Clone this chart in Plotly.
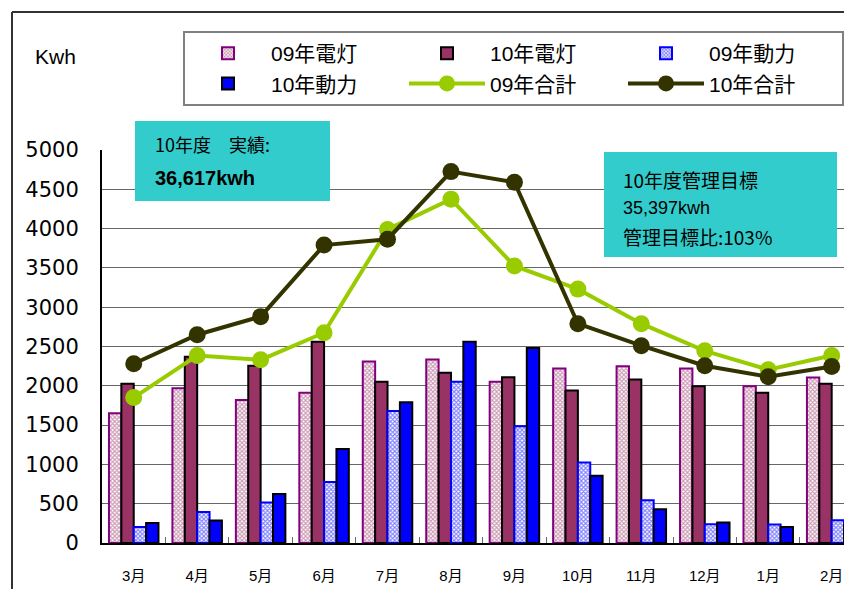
import plotly.graph_objects as go

months = ["3月", "4月", "5月", "6月", "7月", "8月", "9月", "10月", "11月", "12月", "1月", "2月"]
light09 = [1650, 1970, 1820, 1910, 2310, 2335, 2050, 2220, 2250, 2220, 1995, 2105]
light10 = [2025, 2370, 2255, 2560, 2050, 2165, 2110, 1940, 2080, 1995, 1910, 2025]
power09 = [205, 395, 515, 775, 1680, 2050, 1485, 1025, 545, 240, 235, 290]
power10 = [255, 285, 625, 1195, 1790, 2560, 2480, 855, 430, 260, 205, 235]
total09 = [1850, 2385, 2330, 2675, 3990, 4375, 3525, 3230, 2790, 2445, 2205, 2385]
total10 = [2280, 2650, 2880, 3790, 3865, 4725, 4590, 2790, 2510, 2255, 2115, 2245]
y_ticks = [0, 500, 1000, 1500, 2000, 2500, 3000, 3500, 4000, 4500, 5000]

# The page body has an 8px margin; the figure is sized to fill the rest of the window.
OFF = 8
W, H = 852 - OFF, 589 - OFF
L, R, T, B = 102 - OFF, 0, 150 - OFF, 589 - 543
PW, PH = W - L - R, H - T - B

def px(x):  # window pixel -> paper x
    return (x - OFF - L) / PW

def py(y):  # window pixel -> paper y
    return (H - B - (y - OFF)) / PH

LAT = "Liberation Sans, Arial, Noto Sans CJK JP"
CJK = "Noto Sans CJK JP, Liberation Sans"

fig = go.Figure()
fig.add_bar(x=months, y=light09, name="09年電灯",
            marker=dict(color="white", line=dict(color="#800080", width=2),
                        pattern=dict(shape="x", fgcolor="#993366", bgcolor="white", size=3, solidity=0.6)))
fig.add_bar(x=months, y=light10, name="10年電灯",
            marker=dict(color="#993366", line=dict(color="black", width=2)))
fig.add_bar(x=months, y=power09, name="09年動力",
            marker=dict(color="white", line=dict(color="#0000FF", width=2),
                        pattern=dict(shape="x", fgcolor="#0000FF", bgcolor="white", size=3, solidity=0.6)))
fig.add_bar(x=months, y=power10, name="10年動力",
            marker=dict(color="#0000FF", line=dict(color="black", width=2)))
fig.add_scatter(x=months, y=total09, name="09年合計", mode="lines+markers",
                line=dict(color="#99CC00", width=4), marker=dict(size=17, color="#99CC00"))
fig.add_scatter(x=months, y=total10, name="10年合計", mode="lines+markers",
                line=dict(color="#333300", width=4), marker=dict(size=17, color="#333300"))

cat_w = 63.45

fig.update_layout(
    width=W, height=H,
    margin=dict(l=L, r=R, t=T, b=B, autoexpand=False),
    paper_bgcolor="white", plot_bgcolor="white",
    barmode="group", bargap=0.22, bargroupgap=0,
    font=dict(family=CJK, color="black"),
    showlegend=True,
    legend=dict(orientation="h", x=px(183), y=py(31), xanchor="left", yanchor="top",
                itemwidth=76, entrywidth=128, entrywidthmode="pixels",
                font=dict(family=LAT, size=21, color="black"),
                bgcolor="white", bordercolor="#808080", borderwidth=2,
                traceorder="normal", tracegroupgap=0),
    xaxis=dict(range=[-0.5, -0.5 + PW / cat_w], showgrid=False,
               showline=True, linecolor="black", linewidth=2,
               ticks="inside", ticklen=6, tickcolor="#666", tickson="boundaries",
               tickfont=dict(family=LAT, size=15, color="black"), ticklabelstandoff=18),
    yaxis=dict(range=[0, 5000], tickvals=y_ticks, showgrid=True, gridcolor="#666", gridwidth=1,
               showline=True, linecolor="black", linewidth=2, zeroline=False,
               tickfont=dict(family="DejaVu Sans", size=21, color="black"), ticklabelstandoff=17),
)

shapes = [
    dict(type="line", xref="paper", yref="paper", x0=px(12), x1=px(12), y0=py(12), y1=py(600),
         line=dict(color="#333", width=2)),
    dict(type="line", xref="paper", yref="paper", x0=px(12), x1=px(860), y0=py(12), y1=py(12),
         line=dict(color="#333", width=2)),
    dict(type="rect", xref="paper", yref="paper", x0=px(135), x1=px(330), y0=py(121), y1=py(201),
         fillcolor="#33CCCC", line=dict(width=0), layer="above"),
    dict(type="rect", xref="paper", yref="paper", x0=px(604), x1=px(837), y0=py(152), y1=py(257),
         fillcolor="#33CCCC", line=dict(width=0), layer="above"),
]
fig.update_layout(shapes=shapes)

def ann(text, x, y, size, bold=False, family=CJK):
    fig.add_annotation(xref="paper", yref="paper", x=px(x), y=py(y), xanchor="left", yanchor="middle",
                       text=f"<b>{text}</b>" if bold else text, showarrow=False,
                       font=dict(family=family, size=size, color="black"))

ann("Kwh", 33, 57, 21, family=LAT)
ann("10年度　実績:", 153, 144, 18)
ann("36,617kwh", 153, 178, 20, bold=True, family=LAT)
ann("10年度管理目標", 621, 179, 19)
ann("35,397kwh", 621, 208, 18, family=LAT)
ann("管理目標比:103%", 621, 236, 19)

fig.write_html("out.html")
